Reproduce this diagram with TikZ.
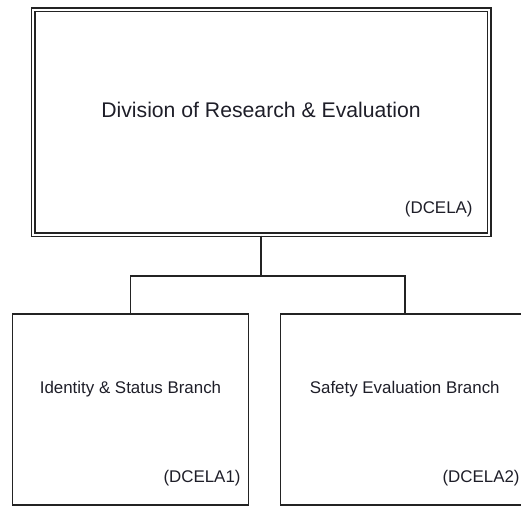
\documentclass[tikz,border=0pt]{standalone}
\usepackage{fontspec}
\setmainfont{Liberation Sans}
\usetikzlibrary{positioning}
\definecolor{linegray}{RGB}{35,35,35}
\definecolor{textgray}{RGB}{30,30,40}
\tikzset{
  divbox/.style={
    rectangle,
    draw=linegray,
    line width=1.5pt,
    double=white,
    double distance=2pt,
    minimum width=456pt,
    minimum height=225pt,
    inner sep=0pt
  },
  branchbox/.style={
    rectangle,
    draw=linegray,
    line width=1.5pt,
    minimum width=236pt,
    minimum height=191pt,
    inner sep=0pt
  },
  divtitle/.style={text=textgray, inner sep=0pt, font=\fontsize{21.2}{25}\selectfont},
  branchtitle/.style={text=textgray, inner sep=0pt, font=\fontsize{16.9}{20}\selectfont},
  unitcode/.style={text=textgray, inner sep=0pt, anchor=east, font=\fontsize{16.9}{20}\selectfont},
  link/.style={draw=linegray, line width=1.5pt}
}

\begin{document}
\begin{tikzpicture}[x=1pt, y=1pt]
  \useasboundingbox (0,0) rectangle (521,506);
  \clip (0,0) rectangle (521,506);

  % division and its two branches
  \node[divbox] (div) at (261,383.5) {};
  \node[branchbox] (ident) at (130.5,96.5) {};
  \node[branchbox, minimum width=248.5pt] (safety) at (404.75,96.5) {};

  \node[divtitle] (divname) at ([yshift=12.5pt]div.center) {Division of Research \& Evaluation};
  \node[unitcode] (divcode) at ([xshift=-17pt,yshift=27pt]div.south east) {(DCELA)};

  \node[branchtitle] (identname) at ([yshift=20.5pt]ident.center) {Identity \& Status Branch};
  \node[unitcode] (identcode) at ([xshift=-8.5pt,yshift=28pt]ident.south east) {(DCELA1)};

  \node[branchtitle] (safetyname) at ([yshift=20.5pt]safety.center) {Safety Evaluation Branch};
  \node[unitcode] (safetycode) at ([xshift=-10pt,yshift=28pt]safety.south east) {(DCELA2)};

  % connectors
  \coordinate (bus) at (261,230);
  \draw[link] (div.south) -- (bus);
  \draw[link] (ident.north) |- (bus) -| (safety.north);
\end{tikzpicture}
\end{document}
